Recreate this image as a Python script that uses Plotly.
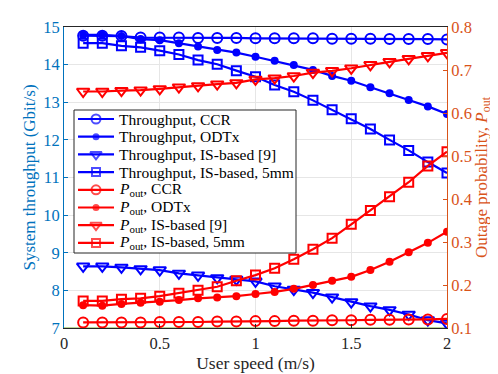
import plotly.graph_objects as go

speed = [round(0.1 * i, 1) for i in range(1, 21)]

thr_ccr = [14.77, 14.77, 14.76, 14.72, 14.72, 14.72, 14.71, 14.71, 14.71, 14.70,
           14.70, 14.70, 14.70, 14.69, 14.69, 14.69, 14.68, 14.68, 14.68, 14.67]
thr_odtx = [14.79, 14.79, 14.76, 14.68, 14.65, 14.57, 14.48, 14.39, 14.32, 14.21,
            14.10, 13.99, 13.86, 13.70, 13.57, 13.40, 13.24, 13.06, 12.89, 12.69]
thr_is9 = [8.64, 8.64, 8.61, 8.57, 8.54, 8.45, 8.40, 8.33, 8.29, 8.24,
           8.11, 8.02, 7.94, 7.82, 7.69, 7.58, 7.48, 7.36, 7.21, 7.12]
thr_is5 = [14.57, 14.57, 14.50, 14.46, 14.37, 14.27, 14.12, 14.01, 13.84, 13.68,
           13.46, 13.28, 13.05, 12.80, 12.56, 12.29, 12.00, 11.72, 11.41, 11.12]

pout_ccr = [0.113, 0.113, 0.113, 0.113, 0.114, 0.114, 0.114, 0.115, 0.115, 0.116,
            0.116, 0.117, 0.117, 0.118, 0.118, 0.119, 0.119, 0.120, 0.120, 0.121]
pout_odtx = [0.153, 0.152, 0.156, 0.159, 0.161, 0.165, 0.169, 0.171, 0.174, 0.179,
             0.184, 0.191, 0.200, 0.210, 0.219, 0.235, 0.254, 0.276, 0.298, 0.324]
pout_is9 = [0.650, 0.650, 0.652, 0.653, 0.656, 0.660, 0.663, 0.667, 0.670, 0.678,
            0.681, 0.686, 0.694, 0.698, 0.704, 0.712, 0.719, 0.726, 0.733, 0.740]
pout_is5 = [0.163, 0.163, 0.167, 0.169, 0.174, 0.181, 0.188, 0.196, 0.210, 0.223,
            0.239, 0.260, 0.283, 0.309, 0.341, 0.373, 0.405, 0.439, 0.477, 0.510]

# faint green reference line lying on the bottom of the axes
floor_x = [0, 2]
floor_y = [7.0, 7.0]

labels = ["CCR", "ODTx", "IS-based [9]", "IS-based, 5mm"]

BLUE = "#0000FF"
RED = "#FF0000"
LEFT_C = "#0072BD"
RIGHT_C = "#D95319"
FONT = "Liberation Serif, Times New Roman, serif"

markers = [
    dict(symbol="circle-open", size=10, line=dict(width=2)),
    dict(symbol="circle", size=8),
    dict(symbol="triangle-down-open", size=11, line=dict(width=2)),
    dict(symbol="square-open", size=9, line=dict(width=2)),
]

series = []
for ys, lab, m in zip([thr_ccr, thr_odtx, thr_is9, thr_is5], labels, markers):
    series.append(("Throughput, " + lab, ys, "y", BLUE, m))
for ys, lab, m in zip([pout_ccr, pout_odtx, pout_is9, pout_is5], labels, markers):
    series.append(("<i>P</i><sub>out</sub>, " + lab, ys, "y2", RED, m))

fig = go.Figure()
fig.add_trace(go.Scatter(x=floor_x, y=floor_y, mode="lines",
                         line=dict(color="#77AC30", width=1.2),
                         showlegend=False, hoverinfo="skip"))
for name, ys, ax, col, m in series:
    fig.add_trace(go.Scatter(
        x=speed, y=ys, mode="lines+markers", name=name, yaxis=ax,
        line=dict(color=col, width=2.2), marker=dict(color=col, **m),
        showlegend=False))

# hand-made legend box (pixel coords of the plot area) so rows stay tight like MATLAB
bx0, bx1, by0, by1 = 74, 296, 110, 253
fig.add_trace(go.Scatter(
    x=[bx0, bx1, bx1, bx0, bx0], y=[by0, by0, by1, by1, by0],
    xaxis="x3", yaxis="y3", mode="lines", fill="toself", fillcolor="white",
    line=dict(color="#262626", width=1), showlegend=False, hoverinfo="skip"))
annotations = []
row0, row_step = 119, 17.7
for i, (name, ys, ax, col, m) in enumerate(series):
    yy = row0 + i * row_step
    msize = m["size"]
    fig.add_trace(go.Scatter(
        x=[78, 96, 114], y=[yy, yy, yy], xaxis="x3", yaxis="y3",
        mode="lines+markers", line=dict(color=col, width=2.2),
        marker=dict(color=col, symbol=m["symbol"], size=[0, msize - 1, 0],
                    line=m.get("line", dict(width=0))),
        showlegend=False, hoverinfo="skip"))
    annotations.append(dict(
        x=117, y=yy, xref="x3", yref="y3", text=name, showarrow=False,
        xanchor="left", yanchor="middle",
        font=dict(family=FONT, size=15.5, color="#000000")))

fig.update_layout(
    width=490, height=366,
    margin=dict(l=56, r=51, t=19, b=46),
    paper_bgcolor="white", plot_bgcolor="white",
    font=dict(family=FONT, size=16, color="#262626"),
    showlegend=False,
    annotations=annotations,
    xaxis=dict(
        range=[0, 2], tickvals=[0, 0.5, 1, 1.5, 2], ticktext=["0", "0.5", "1", "1.5", "2"],
        ticks="inside", ticklen=4, tickcolor="#262626",
        showgrid=True, gridcolor="#E6E6E6", zeroline=False,
        showline=True, linecolor="#262626", mirror=True, automargin=False,
        title=dict(text="User speed (m/s)", standoff=4, font=dict(size=17.5)),
        tickfont=dict(size=16.5),
    ),
    yaxis=dict(
        range=[7, 15], dtick=1, ticks="inside", ticklen=4, tickcolor=LEFT_C,
        showgrid=True, gridcolor="#E6E6E6", zeroline=False,
        showline=True, linecolor=LEFT_C, automargin=False,
        tickfont=dict(size=16.5, color=LEFT_C),
        title=dict(text="System throughput (Gbit/s)", standoff=3,
                   font=dict(size=17, color=LEFT_C)),
    ),
    yaxis2=dict(
        range=[0.1, 0.8], dtick=0.1, tickformat=".1f", overlaying="y", side="right",
        ticks="inside", ticklen=4, tickcolor=RIGHT_C,
        showgrid=False, zeroline=False,
        showline=True, linecolor=RIGHT_C, automargin=False,
        tickfont=dict(size=16.5, color=RIGHT_C),
        title=dict(text="Outage probability, <i>P</i><sub>out</sub>", standoff=2,
                   font=dict(size=17, color=RIGHT_C)),
    ),
    xaxis3=dict(range=[64, 447], overlaying="x", visible=False, fixedrange=True),
    yaxis3=dict(range=[328, 27], overlaying="y", visible=False, fixedrange=True),
)

fig.write_html("out.html")
